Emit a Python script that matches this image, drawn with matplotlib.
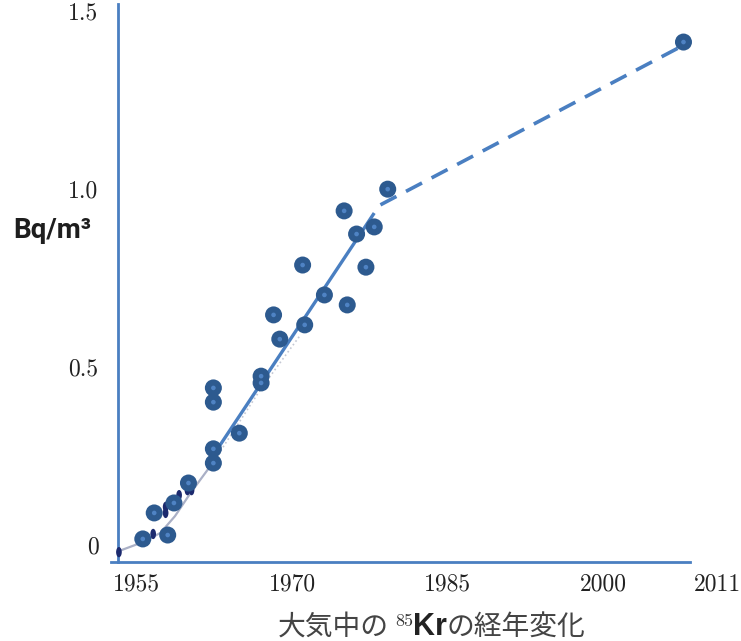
import matplotlib
matplotlib.use("Agg")
import matplotlib.pyplot as plt
from matplotlib.path import Path
from matplotlib.transforms import Affine2D

# measured points (year, Bq/m3)
years_big = [1955.6, 1956.7, 1958.0, 1958.6, 1960.0, 1962.4, 1962.4, 1962.4, 1962.4,
             1964.9, 1967.0, 1967.0, 1968.2, 1968.8, 1971.0, 1971.2, 1973.1, 1975.0,
             1975.3, 1976.2, 1977.1, 1977.9, 1979.2, 2007.7]
vals_big = [0.017, 0.090, 0.028, 0.118, 0.174, 0.441, 0.401, 0.270, 0.230,
            0.314, 0.474, 0.455, 0.646, 0.578, 0.786, 0.618, 0.702, 0.938,
            0.674, 0.873, 0.780, 0.893, 0.999, 1.412]

years_small = [1953.3, 1956.6, 1957.8, 1957.8, 1959.1, 1959.9, 1960.3]
vals_small = [-0.020, 0.031, 0.107, 0.090, 0.140, 0.154, 0.154]

curve_years = [1953.3, 1955.6, 1957.3, 1958.7, 1960.2, 1962.4]
curve_vals = [-0.017, 0.008, 0.034, 0.081, 0.146, 0.233]
curve2_years = [1962.4, 1966.9, 1970.8]
curve2_vals = [0.233, 0.435, 0.590]

fit_years = [1962.1, 1977.9]
fit_vals = [0.239, 0.932]
proj_years = [1978.5, 2007.5]
proj_vals = [0.955, 1.400]

xticks = [1955, 1970, 1985, 2000, 2011]
yticks = [0, 0.5, 1.0, 1.5]
ytick_labels = ['0', '0.5', '1.0', '1.5']

blue = '#4a7fc1'
dot_dark = '#2d5a8f'
navy = '#1c2a6e'

# tall narrow ellipse for the small early markers
ellipse = Path.unit_circle().transformed(Affine2D().scale(0.55, 1.0))

fig = plt.figure(figsize=(7.41, 6.41), dpi=100)
ax = fig.add_axes([0.1591, 0.1231, 0.8235, 0.8713])
ax.set_xlim(1953.2, 2012.0)
ax.set_ylim(-0.048, 1.52)

ax.plot(curve_years, curve_vals, color='#aab0c6', lw=1.6, zorder=1)
ax.plot(curve2_years, curve2_vals, color='#c4c8d4', lw=1.2, ls=':', zorder=1)
ax.plot(fit_years, fit_vals, color=blue, lw=2.4, zorder=2, solid_capstyle='butt')
ax.plot(proj_years, proj_vals, color=blue, lw=2.6, ls=(0, (5, 3)), zorder=2)

ax.scatter(years_small, vals_small, marker=ellipse, s=55, color=navy, zorder=3,
           edgecolors='none', clip_on=False)
ax.scatter(years_big, vals_big, s=150, color=dot_dark, zorder=4, edgecolors='none')
ax.scatter(years_big, vals_big, s=11, color='#4f83c4', zorder=5, edgecolors='none')

for s in ['top', 'right']:
    ax.spines[s].set_visible(False)
for s in ['left', 'bottom']:
    ax.spines[s].set_color(blue)
    ax.spines[s].set_linewidth(2)
ax.spines['bottom'].set_bounds(1952.5, 2008.3)
ax.spines['bottom'].set_clip_on(False)

ax.set_xticks(xticks)
ax.set_xticklabels([str(x) for x in xticks])
ax.set_yticks(yticks)
ax.set_yticklabels(ytick_labels)
ax.tick_params(length=0, labelsize=17, labelcolor='#222222')
ax.tick_params(axis='x', pad=8)
ax.tick_params(axis='y', pad=14)
for lab in ax.get_xticklabels() + ax.get_yticklabels():
    lab.set_fontfamily('cmr10')

fig.text(13 / 741, 1 - 231 / 641, 'Bq/m³', fontsize=20, fontweight='bold',
         family='Roboto', color='#1e1e1e', va='center', ha='left')

# caption built from pieces
fig.canvas.draw()
r = fig.canvas.get_renderer()
W = fig.bbox.width
H = fig.bbox.height
base = 1 - 635 / H
parts = [
    ('大気中の', dict(fontsize=20, family=['Noto Sans CJK JP', 'DejaVu Sans'], color='#444444'), base),
    ('85', dict(fontsize=13, family='cmr10', color='#333333'), 1 - 626 / H),
    ('Kr', dict(fontsize=22, family='Liberation Sans', fontweight='bold', color='#222222'), base),
    ('の経年変化', dict(fontsize=20, family=['Noto Sans CJK JP', 'DejaVu Sans'], color='#444444'), base),
]
x = 278 / W
for i, (s, kw, y) in enumerate(parts):
    t = fig.text(x, y, s, va='baseline', ha='left', **kw)
    bb = t.get_window_extent(r)
    x = bb.x1 / W + (6 / W if i == 0 else 0)

fig.savefig('out.png', dpi=100)
